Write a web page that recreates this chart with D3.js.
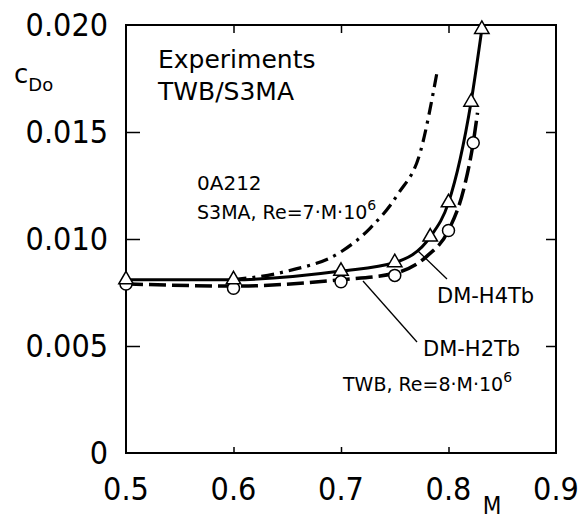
<!DOCTYPE html>
<html><head><meta charset="utf-8">
<script src="https://cdn.jsdelivr.net/npm/d3@7"></script>
<style>body{margin:0;background:#fff}</style>
</head><body>
<svg id="c" width="583" height="521"></svg>
<script>
const xTicks = [0.5, 0.6, 0.7, 0.8, 0.9];
const xTickLabels = ["0.5", "0.6", "0.7", "0.8", "0.9"];
const yTicks = [0, 0.005, 0.010, 0.015, 0.020];
const yTickLabels = ["0", "0.005", "0.010", "0.015", "0.020"];

// DM-H4Tb (solid, triangles)
const h4M = [0.5, 0.6, 0.7, 0.75, 0.783, 0.80, 0.821, 0.831];
const h4C = [0.0081, 0.0081, 0.0085, 0.0089, 0.0101, 0.0117, 0.0164, 0.0198];
// DM-H2Tb (dashed, circles)
const h2M = [0.5, 0.6, 0.7, 0.75, 0.80, 0.823];
const h2C = [0.0079, 0.0077, 0.0080, 0.0083, 0.0104, 0.0145];
const h2LineM = [0.5, 0.6, 0.7, 0.75, 0.78, 0.80, 0.815, 0.823, 0.827];
const h2LineC = [0.0079, 0.0078, 0.0081, 0.0084, 0.0092, 0.0104, 0.0125, 0.0145, 0.0159];
// OA212 S3MA (dash-dot)
const oaM = [0.6, 0.65, 0.70, 0.727, 0.753, 0.774, 0.789];
const oaC = [0.0081, 0.0085, 0.0094, 0.0105, 0.0121, 0.0141, 0.0177];

const svg = d3.select("#c");
const L = 126, R = 556, T = 25, B = 453;
const x = d3.scaleLinear().domain([0.5, 0.9]).range([L, R]);
const y = d3.scaleLinear().domain([0, 0.020]).range([B, T]);
const tickFont = "'DejaVu Sans Condensed', 'DejaVu Sans', sans-serif";
const txtFont = "'DejaVu Sans', sans-serif";

// frame
svg.append("rect").attr("x", L).attr("y", T).attr("width", R - L).attr("height", B - T)
  .attr("fill", "none").attr("stroke", "#000").attr("stroke-width", 2);

// axes with inward ticks
const ax = (g) => { g.select(".domain").remove(); g.selectAll("text").remove(); g.selectAll("line").attr("stroke", "#000").attr("stroke-width", 1.5); };
svg.append("g").attr("transform", `translate(0,${B})`)
  .call(d3.axisTop(x).tickValues(xTicks.slice(1, -1)).tickSize(6)).call(ax);
svg.append("g").attr("transform", `translate(0,${T})`)
  .call(d3.axisBottom(x).tickValues(xTicks.slice(1, -1)).tickSize(8)).call(ax);
svg.append("g").attr("transform", `translate(${L},0)`)
  .call(d3.axisRight(y).tickValues(yTicks.slice(1, -1)).tickSize(14)).call(ax);
svg.append("g").attr("transform", `translate(${R},0)`)
  .call(d3.axisLeft(y).tickValues(yTicks.slice(1, -1)).tickSize(10)).call(ax);

// tick labels
svg.append("g").selectAll("text").data(xTicks).join("text")
  .attr("x", d => x(d)).attr("y", 500).attr("text-anchor", "middle")
  .attr("font-family", tickFont).attr("font-size", 32).text((d, i) => xTickLabels[i]);
svg.append("g").selectAll("text").data(yTicks).join("text")
  .attr("x", 108).attr("y", d => y(d) + 11).attr("text-anchor", "end")
  .attr("font-family", tickFont).attr("font-size", 32).text((d, i) => yTickLabels[i]);

// axis titles
svg.append("text").attr("x", 492).attr("y", 514).attr("text-anchor", "middle")
  .attr("font-family", tickFont).attr("font-size", 24).text("M");
const ct = svg.append("text").attr("x", 14).attr("y", 83).attr("font-family", txtFont).attr("font-size", 26);
ct.append("tspan").text("c");
ct.append("tspan").attr("font-size", 18).attr("dy", 8).text("Do");

// lines
const line = d3.line().x(d => x(d[0])).y(d => y(d[1])).curve(d3.curveMonotoneX);
svg.append("path").datum(oaM.map((m, i) => [m, oaC[i]])).attr("d", line)
  .attr("fill", "none").attr("stroke", "#000").attr("stroke-width", 3.2)
  .attr("stroke-dasharray", "13 6 3 6");
svg.append("path").datum(h2LineM.map((m, i) => [m, h2LineC[i]])).attr("d", line)
  .attr("fill", "none").attr("stroke", "#000").attr("stroke-width", 3.5)
  .attr("stroke-dasharray", "17 6");
svg.append("path").datum(h4M.map((m, i) => [m, h4C[i]])).attr("d", line)
  .attr("fill", "none").attr("stroke", "#000").attr("stroke-width", 3);

// markers
svg.append("g").selectAll("circle").data(h2M.map((m, i) => [m, h2C[i]])).join("circle")
  .attr("cx", d => x(d[0])).attr("cy", d => y(d[1])).attr("r", 6)
  .attr("fill", "#fff").attr("stroke", "#000").attr("stroke-width", 1.5);
const tri = d3.symbol().type(d3.symbolTriangle).size(90);
svg.append("g").selectAll("path").data(h4M.map((m, i) => [m, h4C[i]])).join("path")
  .attr("transform", d => `translate(${x(d[0])},${y(d[1])})`).attr("d", tri)
  .attr("fill", "#fff").attr("stroke", "#000").attr("stroke-width", 1.5);

// labels
const lab = (tx, ty, s, fs) => svg.append("text").attr("x", tx).attr("y", ty)
  .attr("font-family", txtFont).attr("font-size", fs).text(s);
lab(158, 68, "Experiments", 25);
lab(158, 100, "TWB/S3MA", 25);
lab(197, 190, "0A212", 20);
const s3 = svg.append("text").attr("x", 197).attr("y", 219).attr("font-family", txtFont).attr("font-size", 19);
s3.append("tspan").text("S3MA, Re=7·M·10");
s3.append("tspan").attr("font-size", 14).attr("dy", -9).text("6");
lab(437, 303, "DM-H4Tb", 21);
lab(423, 356, "DM-H2Tb", 21);
const tw = svg.append("text").attr("x", 343).attr("y", 391).attr("font-family", txtFont).attr("font-size", 19);
tw.append("tspan").text("TWB, Re=8·M·10");
tw.append("tspan").attr("font-size", 14).attr("dy", -9).text("6");

// leader lines
svg.append("line").attr("x1", 418).attr("y1", 251).attr("x2", 447).attr("y2", 279)
  .attr("stroke", "#000").attr("stroke-width", 1.3);
svg.append("line").attr("x1", 363).attr("y1", 281).attr("x2", 417).attr("y2", 342)
  .attr("stroke", "#000").attr("stroke-width", 1.3);
</script>
</body></html>
